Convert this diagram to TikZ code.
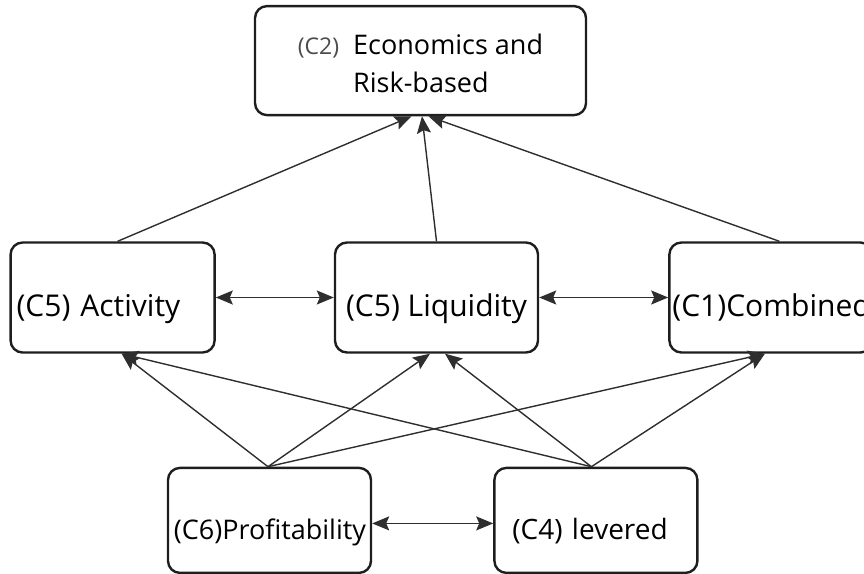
\documentclass[tikz,border=0pt]{standalone}
\usepackage{fontspec}
\setmainfont{Open Sans}
\usepackage{tikz}
\usetikzlibrary{arrows.meta,positioning}
\definecolor{boxline}{HTML}{1E1E1E}
\definecolor{arrline}{HTML}{2E2E2E}
\tikzset{
    %Define standard arrow tip
    >={Stealth[length=17pt,width=14pt,inset=3pt]},
    %Define style for boxes
    crit/.style={
           rectangle,
           rounded corners=12pt,
           draw=boxline, line width=2.4pt,
           minimum width=203pt,
           minimum height=110pt,
           inner xsep=6pt,
           font=\fontsize{30}{36}\selectfont,
           text centered},
    % Define arrow style
    pil/.style={
           ->,
           draw=arrline,
           line width=1.4pt},
    bothpil/.style={
           pil,
           <->}
}
\begin{document}
\begin{tikzpicture}[x=1pt,y=-1pt,main node/.style={crit, text height=46pt, text depth=8pt}]
\useasboundingbox (0,0) rectangle (864,573);
 %nodes
\node[main node] (liq) at (436.5,297.5) {(C5) Liquidity};
\node[main node, left=118pt of liq, minimum width=204pt, text width=192pt, align=left] (act) {(C5) Activity};
\node[main node, right=129pt of liq, inner xsep=3pt, text width=197pt, align=left] (comb) {(C1)Combined};
\node[crit, above=125pt of liq, xshift=-16pt, minimum width=331pt, minimum height=109pt,
      font=\fontsize{27}{38}\selectfont] (top)
      {\begin{tabular}{@{}l@{\hspace{14pt}}l@{}}\rule{0pt}{38pt}{\fontsize{23}{25}\selectfont\color{black!70}(C2)} & Economics and\\ & Risk-based\end{tabular}};
\node[main node, below=113pt of liq, xshift=-167pt, minimum height=105pt, inner xsep=5pt, text width=193pt, align=right,
      font=\fontsize{27}{32}\selectfont] (prof) {(C6)Profitability};
\node[main node, right=121pt of prof, minimum height=105pt, inner xsep=18pt, text width=167pt, align=left,
      font=\fontsize{28}{32}\selectfont] (lev) {(C4) levered};
 %edges to the top
\draw[pil] ([xshift=5pt]act.north) -- ([xshift=-9pt]top.south);
\draw[pil] (liq.north) -- ([xshift=1.5pt]top.south);
\draw[pil] ([xshift=8.5pt]comb.north) -- ([xshift=8pt]top.south);
 %edges between neighbours
\draw[bothpil] (act.east) -- (liq.west);
\draw[bothpil] (liq.east) -- (comb.west);
\draw[bothpil] ([yshift=-3pt]prof.east) -- ([yshift=-3pt]lev.west);
 %edges from the bottom row
\draw[pil] ([xshift=-1.5pt]prof.north) -- ([xshift=9pt]act.south);
\draw[pil] ([xshift=-1.5pt]prof.north) -- ([xshift=-6.5pt]liq.south);
\draw[pil] ([xshift=-1.5pt]prof.north) -- ([xshift=-6pt]comb.south);
\draw[pil] ([xshift=-4.5pt]lev.north) -- ([xshift=9pt]act.south);
\draw[pil] ([xshift=-4.5pt]lev.north) -- ([xshift=8.5pt]liq.south);
\draw[pil] ([xshift=-4.5pt]lev.north) -- ([xshift=-6pt]comb.south);
\end{tikzpicture}
\end{document}
